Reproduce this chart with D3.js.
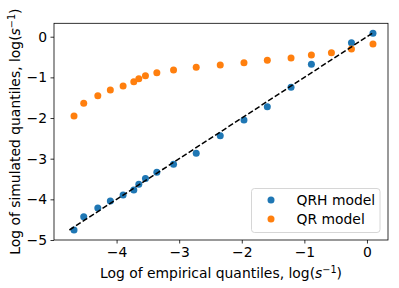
<!DOCTYPE html>
<html>
<head>
<meta charset="utf-8">
<script src="https://cdn.jsdelivr.net/npm/d3@7"></script>
<style>
  body { margin: 0; background: #fff; }
  svg text { font-family: "DejaVu Sans", sans-serif; fill: #000; }
</style>
</head>
<body>
<div id="container"></div>
<script>
// empirical quantiles (x), shared by both models
const empirical = [-4.68, -4.525, -4.30, -4.10, -3.896, -3.725, -3.645, -3.539, -3.357, -3.09, -2.728, -2.344, -1.965, -1.592, -1.213, -0.888, -0.248, 0.096];
const qrhSim = [-4.754, -4.427, -4.213, -4.04, -3.893, -3.77, -3.63, -3.49, -3.335, -3.138, -2.868, -2.435, -2.05, -1.722, -1.245, -0.68, -0.148, 0.084];

const empiricalQR = [-4.68, -4.525, -4.30, -4.10, -3.896, -3.725, -3.645, -3.539, -3.357, -3.09, -2.728, -2.344, -1.965, -1.592, -1.213, -0.888, -0.568, -0.248, 0.096];
const qrSim = [-1.95, -1.638, -1.45, -1.311, -1.213, -1.107, -1.033, -0.959, -0.886, -0.82, -0.753, -0.696, -0.64, -0.58, -0.524, -0.45, -0.394, -0.303, -0.18];

const ticks = [-5, -4, -3, -2, -1, 0];
const legendLabels = ["QRH model", "QR model"];
const colors = ["#1f77b4", "#ff7f0e"];

const width = 399, height = 288;
const padLeft = 54, padRight = 388, padTop = 23.3, padBottom = 240;
const fontSize = "13.9px";
const dotR = 3.5;

const svg = d3.select("#container").append("svg")
  .attr("width", width).attr("height", height);

const xScale = d3.scaleLinear().domain([-5, 0.336]).range([padLeft, padRight]);
const yScale = d3.scaleLinear().domain([-5, 0.33]).range([padBottom, padTop]);

const xAxis = d3.axisBottom(xScale).tickValues(ticks.slice(1))
  .tickFormat(d3.format("d")).tickSize(3.5).tickPadding(3.5);
const yAxis = d3.axisLeft(yScale).tickValues(ticks)
  .tickFormat(d3.format("d")).tickSize(3.5).tickPadding(3.5);

const gx = svg.append("g").attr("transform", `translate(0,${padBottom})`).call(xAxis);
const gy = svg.append("g").attr("transform", `translate(${padLeft},0)`).call(yAxis);
[gx, gy].forEach(g => {
  g.attr("font-family", null).attr("font-size", null);
  g.select(".domain").remove();
  g.selectAll("line").attr("stroke", "#000").attr("stroke-width", 0.8);
  g.selectAll("text").style("font-size", fontSize).attr("fill", "#000");
});

// frame
svg.append("rect")
  .attr("x", padLeft).attr("y", padTop)
  .attr("width", padRight - padLeft).attr("height", padBottom - padTop)
  .attr("fill", "none").attr("stroke", "#000").attr("stroke-width", 0.8);

// QRH points
svg.append("g").selectAll("circle")
  .data(empirical.map((x, i) => [x, qrhSim[i]]))
  .enter().append("circle")
  .attr("cx", d => xScale(d[0]))
  .attr("cy", d => yScale(d[1]))
  .attr("r", dotR)
  .attr("fill", colors[0]);

// QR points
svg.append("g").selectAll("circle")
  .data(empiricalQR.map((x, i) => [x, qrSim[i]]))
  .enter().append("circle")
  .attr("cx", d => xScale(d[0]))
  .attr("cy", d => yScale(d[1]))
  .attr("r", dotR)
  .attr("fill", colors[1]);

// 1:1 line
const lo = d3.min(qrhSim), hi = d3.max(empirical);
svg.append("line")
  .attr("x1", xScale(lo)).attr("y1", yScale(lo))
  .attr("x2", xScale(hi)).attr("y2", yScale(hi))
  .attr("stroke", "#000").attr("stroke-width", 1.5)
  .attr("stroke-dasharray", "5.5,2.4");

// legend
const legend = svg.append("g").attr("transform", "translate(251.5,188.5)");
legend.append("rect")
  .attr("width", 128.5).attr("height", 44).attr("rx", 3)
  .attr("fill", "#fff").attr("fill-opacity", 0.8)
  .attr("stroke", "#ccc").attr("stroke-width", 0.8);
const items = legend.selectAll("g.item")
  .data(legendLabels).enter().append("g")
  .attr("transform", (d, i) => `translate(0,${11.5 + i * 19})`);
items.append("circle")
  .attr("cx", 19.5).attr("cy", 0).attr("r", dotR)
  .attr("fill", (d, i) => colors[i]);
items.append("text")
  .attr("x", 45).attr("y", 5)
  .style("font-size", fontSize)
  .text(d => d);

// axis labels
const xl = svg.append("text")
  .attr("x", (padLeft + padRight) / 2).attr("y", 277.5)
  .attr("text-anchor", "middle").style("font-size", fontSize);
xl.append("tspan").text("Log of empirical quantiles, log(");
xl.append("tspan").attr("font-style", "italic").text("s");
xl.append("tspan").attr("dy", -5).style("font-size", "9.7px").text("−1");
xl.append("tspan").attr("dy", 5).text(")");

const yl = svg.append("text")
  .attr("transform", `translate(20,${(padTop + padBottom) / 2}) rotate(-90)`)
  .attr("text-anchor", "middle").style("font-size", fontSize);
yl.append("tspan").text("Log of simulated quantiles, log(");
yl.append("tspan").attr("font-style", "italic").text("s");
yl.append("tspan").attr("dy", -5).style("font-size", "9.7px").text("−1");
yl.append("tspan").attr("dy", 5).text(")");
</script>
</body>
</html>
